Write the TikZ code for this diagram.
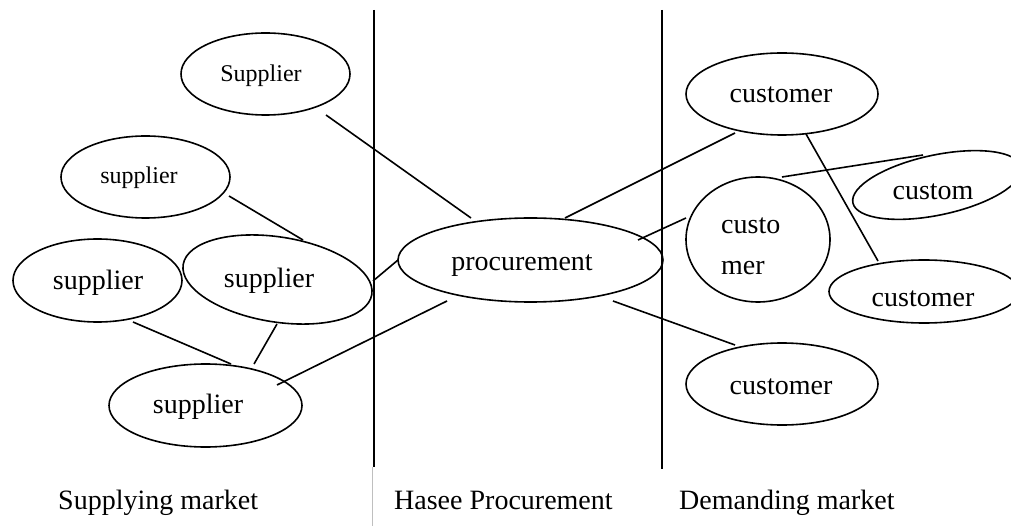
\documentclass[tikz,border=0pt]{standalone}
\usepackage{fontspec}
\setmainfont{Liberation Serif}
\usetikzlibrary{shapes.geometric}
\tikzset{
  oval/.style={draw,ellipse,line width=1.6pt,inner sep=0pt,outer sep=0pt},
  wire/.style={line width=1.6pt},
  divider/.style={line width=2pt},
  lbl/.style={inner sep=0pt,anchor=base,font=\fontsize{#1}{#1}\selectfont},
  lbl/.default=28,
  lblw/.style={inner sep=0pt,anchor=base west,font=\fontsize{#1}{#1}\selectfont},
  lblw/.default=28
}
\begin{document}
\begin{tikzpicture}[x=1pt,y=-1pt,line cap=butt]
\useasboundingbox (0,0) rectangle (1011,526);
\clip (0,0) rectangle (1011,526);
\node[oval,minimum width=169,minimum height=82] (s1) at (265.5,74) {};
\node[lbl=24] (t1) at (261,82) {Supplier};
\node[oval,minimum width=169,minimum height=82] (s2) at (145.5,177) {};
\node[lbl=24] (t2) at (139,184) {supplier};
\node[oval,minimum width=169,minimum height=83] (s3) at (97.5,280.5) {};
\node[lbl=28] (t3) at (98,290) {supplier};
\node[oval,minimum width=191,minimum height=85,rotate=-9] (s4) at (277.5,279.5) {};
\node[lbl=28] (t4) at (269,288) {supplier};
\node[oval,minimum width=193,minimum height=83] (s5) at (205.5,405.5) {};
\node[lbl=28] (t5) at (198,413) {supplier};
\node[oval,minimum width=265,minimum height=84] (p) at (530.5,260) {};
\node[lbl=28] (t6) at (522,271) {procurement};
\node[oval,minimum width=192,minimum height=82] (c1) at (782,94) {};
\node[lbl=28] (t7) at (781,103) {customer};
\node[oval,minimum width=192,minimum height=82] (c5) at (782,384) {};
\node[lbl=28] (t8) at (781,394) {customer};
\node[oval,minimum width=144,minimum height=125] (c2) at (758,239.5) {};
\node[lblw=28] (t9) at (721,234) {custo};
\node[lblw=28] (t10) at (721,275) {mer};
\node[oval,minimum width=172,minimum height=60,rotate=12] (c3) at (937,185) {};
\node[lbl=28] (t11) at (933,200) {custom};
\node[oval,minimum width=190,minimum height=63] (c4) at (924,291.5) {};
\node[lbl=28] (t12) at (923,307) {customer};
\coordinate (v1t) at (373.5,10); \coordinate (v1b) at (373.5,467);
\coordinate (v2t) at (661.5,10); \coordinate (v2b) at (661.5,469);
\draw[divider] (v1t)--(v1b);
\draw[divider] (v2t)--(v2b);
\coordinate (g1) at (372.7,467); \coordinate (g2) at (372.7,526);
\draw[line width=.8pt,black!25] (g1)--(g2);
\coordinate (a1) at (326,115); \coordinate (a2) at (471,218);
\draw[wire] (a1)--(a2);
\coordinate (a3) at (229,196); \coordinate (a4) at (303,240);
\draw[wire] (a3)--(a4);
\coordinate (a5) at (373,281); \coordinate (a6) at (398,260);
\draw[wire] (a5)--(a6);
\coordinate (a7) at (133,322); \coordinate (a8) at (231,364);
\draw[wire] (a7)--(a8);
\coordinate (a9) at (277,324); \coordinate (a10) at (254,364);
\draw[wire] (a9)--(a10);
\coordinate (a11) at (277,385); \coordinate (a12) at (447,301);
\draw[wire] (a11)--(a12);
\coordinate (b1) at (565,218); \coordinate (b2) at (735,133);
\draw[wire] (b1)--(b2);
\coordinate (b3) at (638,240); \coordinate (b4) at (686,218);
\draw[wire] (b3)--(b4);
\coordinate (b5) at (613,301); \coordinate (b6) at (735,345);
\draw[wire] (b5)--(b6);
\coordinate (b7) at (806,134); \coordinate (b8) at (878,261);
\draw[wire] (b7)--(b8);
\coordinate (b9) at (782,177); \coordinate (b10) at (923,155);
\draw[wire] (b9)--(b10);
\node[lblw=28] (m1) at (58,509) {Supplying market};
\node[lblw=28] (m2) at (394,509) {Hasee Procurement};
\node[lblw=28] (m3) at (679,509) {Demanding market};
\end{tikzpicture}
\end{document}
